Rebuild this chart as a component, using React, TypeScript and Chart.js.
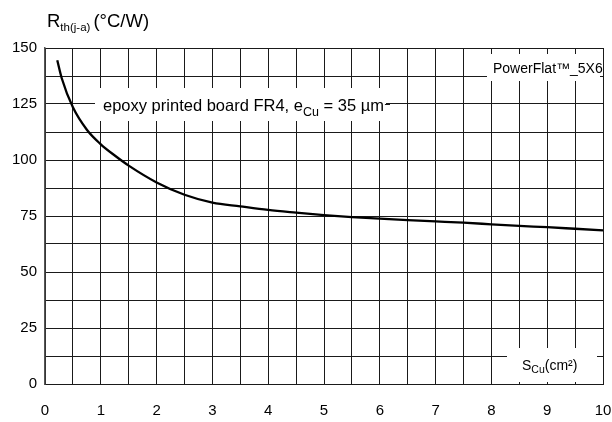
import React, { useEffect, useRef } from "react";
import { Chart, registerables } from "chart.js";

Chart.register(...registerables);

const areaCm2 = [0.22, 0.3, 0.5, 0.75, 1, 1.25, 1.5, 2, 2.5, 3, 3.5, 4, 4.5, 5, 5.5, 6, 6.5, 7, 7.5, 8, 8.5, 9, 9.5, 10];
const rthValues = [144.5, 136.5, 123.5, 113.5, 107, 102, 97.5, 90, 84.5, 81, 79.3, 77.7, 76.5, 75.4, 74.5, 73.8, 73.2, 72.6, 72, 71.3, 70.6, 70, 69.3, 68.6];
const xTickLabels = ["0", "1", "2", "3", "4", "5", "6", "7", "8", "9", "10"];
const yTickLabels = ["0", "25", "50", "75", "100", "125", "150"];

const FONT = "'Liberation Sans', Arial, sans-serif";

const annotations = {
  id: "annotations",
  afterDraw(chart: any) {
    const ctx = chart.ctx as CanvasRenderingContext2D;
    const ys = chart.scales.y;
    ctx.save();
    // title
    ctx.fillStyle = "#000";
    ctx.textBaseline = "alphabetic";
    ctx.textAlign = "left";
    let x = 47;
    ctx.font = `18.5px ${FONT}`;
    ctx.fillText("R", x, 27);
    x += ctx.measureText("R").width;
    ctx.font = `11.5px ${FONT}`;
    ctx.fillText("th(j-a)", x, 31);
    x += ctx.measureText("th(j-a)").width + 3;
    ctx.font = `18.5px ${FONT}`;
    ctx.fillText("(°C/W)", x, 27);

    // epoxy label
    const y125 = ys.getPixelForValue(125);
    ctx.fillStyle = "#fff";
    ctx.fillRect(95, 88, 386 - 95, 33);
    ctx.fillStyle = "#000";
    let ex = 103;
    const eb = 111;
    ctx.font = `16.5px ${FONT}`;
    ctx.fillText("epoxy printed board FR4, e", ex, eb);
    ex += ctx.measureText("epoxy printed board FR4, e").width;
    ctx.font = `12.5px ${FONT}`;
    ctx.fillText("Cu", ex, eb + 5);
    ex += ctx.measureText("Cu").width;
    ctx.font = `16.5px ${FONT}`;
    ctx.fillText(" = 35 µm", ex, eb);
    ex += ctx.measureText(" = 35 µm").width;
    ctx.strokeStyle = "#1a1a1a";
    ctx.lineWidth = 1;
    ctx.beginPath();
    ctx.moveTo(ex + 1, Math.round(y125) + 0.5);
    ctx.lineTo(390, Math.round(y125) + 0.5);
    ctx.stroke();

    // PowerFlat label
    ctx.fillStyle = "#fff";
    ctx.fillRect(487, 54, 600 - 487, 27);
    ctx.fillStyle = "#000";
    ctx.font = `14px ${FONT}`;
    ctx.fillText("PowerFlat™_5X6", 493, 73);

    // S_Cu label
    ctx.fillStyle = "#fff";
    ctx.fillRect(507, 348, 597 - 507, 34);
    ctx.fillStyle = "#000";
    let sx = 522;
    const sy = 370;
    ctx.font = `14px ${FONT}`;
    ctx.fillText("S", sx, sy);
    sx += ctx.measureText("S").width;
    ctx.font = `10.5px ${FONT}`;
    ctx.fillText("Cu", sx, sy + 3);
    sx += ctx.measureText("Cu").width;
    ctx.font = `14px ${FONT}`;
    ctx.fillText("(cm²)", sx, sy);
    ctx.restore();
  },
};

export default function App() {
  const ref = useRef<HTMLCanvasElement>(null);
  useEffect(() => {
    document.body.style.margin = "0";
    const chart = new Chart(ref.current!, {
      type: "line",
      data: {
        datasets: [
          {
            data: areaCm2.map((v, i) => ({ x: v, y: rthValues[i] })),
            borderColor: "#000",
            borderWidth: 2.3,
            pointRadius: 0,
            cubicInterpolationMode: "monotone",
            fill: false,
          },
        ],
      },
      options: {
        animation: false,
        responsive: false,
        devicePixelRatio: 1,
        layout: { padding: { left: 0, top: 48, right: 9, bottom: 0 } },
        plugins: { legend: { display: false }, tooltip: { enabled: false } },
        scales: {
          x: {
            type: "linear",
            min: 0,
            max: 10,
            afterFit: (s: any) => {
              s.height = 38;
              s.paddingLeft = 0;
              s.paddingRight = 0;
            },
            afterBuildTicks: (s: any) => {
              const t = [];
              for (let i = 0; i <= 20; i++) t.push({ value: i * 0.5 });
              s.ticks = t;
            },
            ticks: {
              autoSkip: false,
              maxRotation: 0,
              padding: 18,
              color: "#000",
              font: { family: FONT, size: 15 },
              callback: (v: any) => (Number.isInteger(v) ? xTickLabels[v] : ""),
            },
            grid: { color: "#1a1a1a", lineWidth: 1, drawTicks: false },
            border: { display: true, color: "#1a1a1a", width: 1 },
          },
          y: {
            type: "linear",
            min: 0,
            max: 150,
            afterFit: (s: any) => {
              s.width = 45;
              s.paddingTop = 0;
              s.paddingBottom = 0;
            },
            afterBuildTicks: (s: any) => {
              const t = [];
              for (let i = 0; i <= 12; i++) t.push({ value: i * 12.5 });
              s.ticks = t;
            },
            ticks: {
              autoSkip: false,
              padding: 8,
              color: "#000",
              font: { family: FONT, size: 15 },
              callback: (v: any) => (v % 25 === 0 ? yTickLabels[v / 25] : ""),
            },
            grid: { color: "#1a1a1a", lineWidth: 1, drawTicks: false },
            border: { display: true, color: "#555", width: 1.5 },
          },
        },
      },
      plugins: [annotations],
    } as any);
    return () => chart.destroy();
  }, []);
  return (
    <div style={{ position: "absolute", left: 0, top: 0, width: 612, height: 422 }}>
      <canvas ref={ref} width={612} height={422} style={{ width: 612, height: 422, display: "block" }} />
    </div>
  );
}
